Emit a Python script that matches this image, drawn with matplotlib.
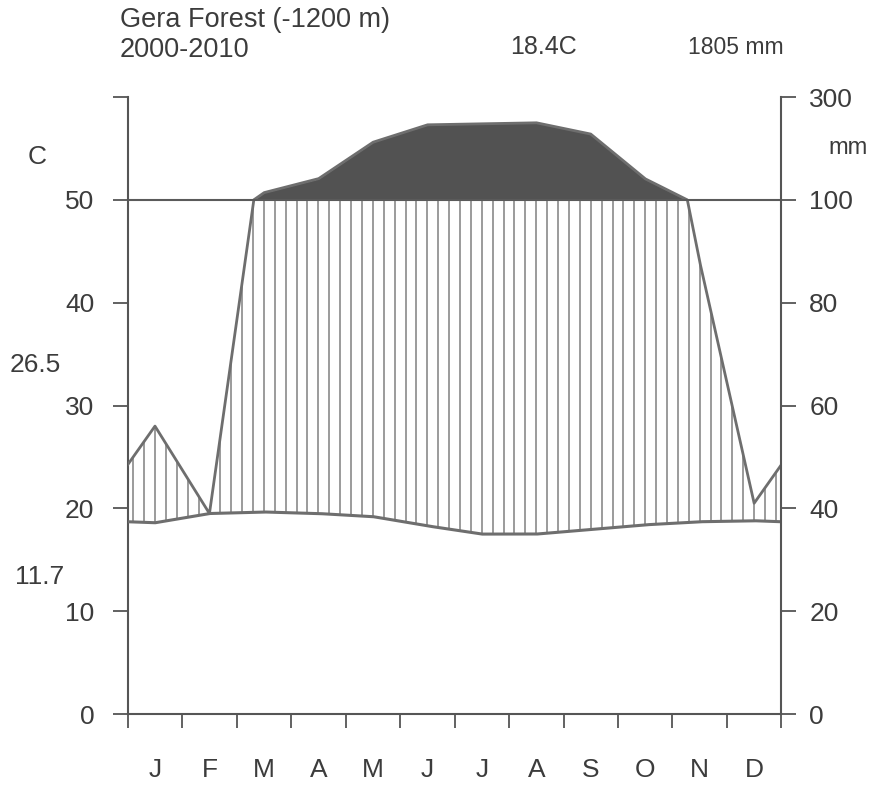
import numpy as np
import matplotlib
matplotlib.use('Agg')
import matplotlib.pyplot as plt

plt.rcParams['font.family'] = ['Liberation Sans', 'DejaVu Sans']

# monthly data, Gera Forest 2000-2010
months = ['J', 'F', 'M', 'A', 'M', 'J', 'J', 'A', 'S', 'O', 'N', 'D']
temp_c = [18.6, 19.5, 19.65, 19.5, 19.2, 18.3, 17.5, 17.5, 17.95, 18.4, 18.7, 18.8]
precip_mm = [56, 39, 114, 141, 212, 246, 248, 250, 228, 141, 88, 41]

left_ticks = [0, 10, 20, 30, 40, 50, 60]
left_labels = ['0', '10', '20', '30', '40', '50', '']
right_labels = ['0', '20', '40', '60', '80', '100', '300']

txt = '#3c3c3c'
line_c = '#6e6e6e'


def mm_to_c(p):
    # walter-lieth scale: 2 mm per degree up to 100 mm, 20 mm per degree above
    p = np.asarray(p, dtype=float)
    return np.where(p <= 100, p / 2.0, 50 + (p - 100) / 20.0)


# months at centers, wrap the ends with Dec/Jan mean
xm = np.arange(12) + 0.5
x_ext = np.concatenate([[0], xm, [12]])
t_edge = (temp_c[0] + temp_c[-1]) / 2
p_edge = (precip_mm[0] + precip_mm[-1]) / 2
t_ext = np.concatenate([[t_edge], temp_c, [t_edge]])
p_ext = np.concatenate([[p_edge], precip_mm, [p_edge]])

xs = np.linspace(0, 12, 2401)
t_line = np.interp(xs, x_ext, t_ext)
p_line = mm_to_c(np.interp(xs, x_ext, p_ext))

fig = plt.figure(figsize=(8.75, 7.89), dpi=100)
ax = fig.add_axes([0.146, 0.095, 0.747, 0.782])
ax.set_xlim(0, 12)
ax.set_ylim(0, 60)

# wet season hatching
hx = np.arange(0.1, 12, 0.2)
ht = np.interp(hx, x_ext, t_ext)
hp = mm_to_c(np.interp(hx, x_ext, p_ext))
wet = hp > ht
ax.vlines(hx[wet], ht[wet], np.minimum(hp[wet], 50), color='#8a8a8a', lw=1.2, zorder=2)

# above 100 mm
ax.fill_between(xs, 50, p_line, where=p_line > 50, color='#525252', lw=0, zorder=3)

ax.plot(xs, p_line, color=line_c, lw=2.0, zorder=4)
ax.plot(xs, t_line, color=line_c, lw=2.2, zorder=4)
ax.axhline(50, color='#5a5a5a', lw=1.5, zorder=4)

for s in ['top', 'right']:
    ax.spines[s].set_visible(False)
for s in ['left', 'bottom']:
    ax.spines[s].set_color('#555555')
    ax.spines[s].set_linewidth(1.5)

ax.set_yticks(left_ticks)
ax.set_yticklabels(left_labels)
ax.tick_params(axis='y', length=11, width=1.3, color='#555555', pad=13,
               labelsize=19, labelcolor=txt)

ax.set_xticks(np.arange(13))
ax.set_xticklabels([])
ax.set_xticks(xm, minor=True)
ax.set_xticklabels(months, minor=True)
ax.tick_params(axis='x', which='major', length=10, width=1.3, color='#555555')
ax.tick_params(axis='x', which='minor', length=0, pad=32, labelsize=19, labelcolor=txt)

ax2 = ax.twinx()
ax2.set_ylim(0, 60)
ax2.set_yticks(left_ticks)
ax2.set_yticklabels(right_labels)
for s in ['top', 'left', 'bottom']:
    ax2.spines[s].set_visible(False)
ax2.spines['right'].set_color('#555555')
ax2.spines['right'].set_linewidth(1.5)
ax2.tick_params(axis='y', length=11, width=1.3, color='#555555', pad=9,
                labelsize=19, labelcolor=txt)

# header and side labels
fig.text(120 / 875, 1 - 20 / 789, 'Gera Forest (-1200 m)', fontsize=19.5, color=txt, va='center')
fig.text(120 / 875, 1 - 50 / 789, '2000-2010', fontsize=19.5, color=txt, va='center')
fig.text(510 / 875, 1 - 47 / 789, '18.4C', fontsize=18, color=txt, va='center')
fig.text(688 / 875, 1 - 47 / 789, '1805 mm', fontsize=16.5, color=txt, va='center')
fig.text(37 / 875, 1 - 157 / 789, 'C', fontsize=19, color=txt, ha='center', va='center')
fig.text(848 / 875, 1 - 148 / 789, 'mm', fontsize=17, color=txt, ha='center', va='center')
fig.text(35 / 875, 1 - 365 / 789, '26.5', fontsize=19, color=txt, ha='center', va='center')
fig.text(40 / 875, 1 - 577 / 789, '11.7', fontsize=19, color=txt, ha='center', va='center')

fig.savefig('out.png', dpi=100, facecolor='white')
